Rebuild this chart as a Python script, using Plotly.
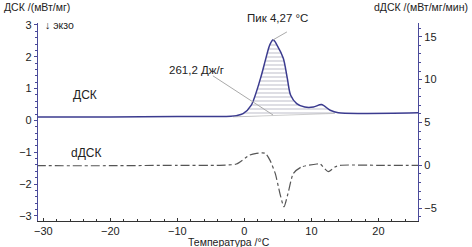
import plotly.graph_objects as go

# DSC curve (left axis, mW/mg)
dsc_t = [-31, -20, -10, -4, -2, -1.2, -0.2, 1.0, 2.4, 3.2, 3.8, 4.3, 4.9, 5.8, 6.4, 6.9, 7.8, 9.0, 10.3, 11.5, 12.8, 14, 18, 26]
dsc_v = [0.11, 0.11, 0.12, 0.12, 0.13, 0.15, 0.21, 0.47, 1.32, 1.95, 2.38, 2.53, 2.35, 1.95, 1.32, 0.79, 0.53, 0.42, 0.42, 0.50, 0.32, 0.24, 0.22, 0.24]

# integration baseline
base_t = [-1.7, 13.5]
base_v = [0.11, 0.22]

# dDSC curve (right axis, mW/mg/min)
ddsc_t = [-31, -20, -10, -3.7, -1.2, 0.8, 1.8, 3.1, 3.8, 4.6, 5.3, 5.9, 6.5, 7.3, 8.5, 10.8, 11.3, 12.5, 13.5, 14.3, 20, 26]
ddsc_v = [-0.05, -0.05, 0.0, 0.0, 0.15, 1.2, 1.4, 1.4, 0.6, -0.95, -3.3, -4.85, -3.3, -0.95, -0.2, 0.15, 0.15, -0.75, -0.2, 0.0, 0.0, 0.0]

peak_t, peak_v = 4.27, 2.53

x_ticks = [-30, -20, -10, 0, 10, 20]
y_ticks = [-3, -2, -1, 0, 1, 2, 3]
y2_ticks = [-5, 0, 5, 10, 15]

font = "Liberation Sans, Arial, sans-serif"
blue = "#4a4a9a"

W, H = 472, 247
L, R, T, B = 38, 54, 23, 26
pw, ph = W - L - R, H - T - B

# hatch segment of DSC within baseline limits
seg_t = [base_t[0]] + [t for t in dsc_t if base_t[0] < t < base_t[1]] + [base_t[1]]
def interp(t, xs, ys):
    for i in range(len(xs) - 1):
        if xs[i] <= t <= xs[i + 1]:
            f = (t - xs[i]) / (xs[i + 1] - xs[i])
            return ys[i] + f * (ys[i + 1] - ys[i])
    return ys[-1]
seg_v = [interp(t, dsc_t, dsc_v) for t in seg_t]

fig = go.Figure()
fig.add_trace(go.Scatter(x=base_t, y=base_v, mode="lines",
                         line=dict(color="rgba(150,150,150,0.6)", width=0.8),
                         hoverinfo="skip", showlegend=False))
fig.add_trace(go.Scatter(x=seg_t, y=seg_v, mode="lines", fill="tonexty",
                         fillcolor="rgba(0,0,0,0)",
                         fillpattern=dict(shape="-", fgcolor="#7c7c92", size=4, solidity=0.25),
                         line=dict(color="rgba(0,0,0,0)", width=0, shape="spline"),
                         hoverinfo="skip", showlegend=False))
fig.add_trace(go.Scatter(x=dsc_t, y=dsc_v, mode="lines",
                         line=dict(color="#3b3b8f", width=1.5, shape="spline", smoothing=0.8),
                         showlegend=False))
fig.add_trace(go.Scatter(x=ddsc_t, y=ddsc_v, mode="lines", yaxis="y2",
                         line=dict(color="#555555", width=1.2, dash="dashdot", shape="spline", smoothing=0.6),
                         showlegend=False))

fig.update_layout(
    width=W, height=H,
    margin=dict(l=L, r=R, t=T, b=B),
    paper_bgcolor="white", plot_bgcolor="white",
    font=dict(family=font, size=11, color="#222"),
    xaxis=dict(range=[-30.8, 25.9], tickvals=x_ticks, showgrid=False, zeroline=False,
               showline=True, linecolor="#333", linewidth=1, ticks="inside", ticklen=3,
               tickcolor="#333", minor=dict(dtick=2, ticks="inside", ticklen=2, tickcolor="#333"),
               tickfont=dict(size=11), automargin=False),
    yaxis=dict(range=[-3.16, 3.06], tickvals=y_ticks, showgrid=False, zeroline=False,
               showline=True, linecolor=blue, linewidth=1.2, ticks="outside", ticklen=3,
               tickcolor=blue, minor=dict(dtick=0.2, ticks="outside", ticklen=2, tickcolor=blue),
               tickfont=dict(size=11), automargin=False),
    yaxis2=dict(range=[-6.5, 16.6], tickvals=y2_ticks, overlaying="y", side="right",
                showgrid=False, zeroline=False, showline=True, linecolor=blue, linewidth=1.2,
                ticks="outside", ticklen=3, tickcolor=blue,
                minor=dict(dtick=1, ticks="outside", ticklen=2, tickcolor=blue),
                tickfont=dict(size=11), automargin=False),
)

# leader lines
fig.add_shape(type="line", xref="x", yref="y", x0=6.34, y0=2.78, x1=peak_t, y1=peak_v,
              line=dict(color="#aaaaaa", width=1))
fig.add_shape(type="line", xref="x", yref="y", x0=-4.7, y0=1.40, x1=peak_t, y1=0.17,
              line=dict(color="#aaaaaa", width=1))

# text labels positioned by pixel (x from left, y from top)
ann = [
    dict(text="ДСК /(мВт/мг)", x=2, y=7, xanchor="left", size=10.5),
    dict(text="dДСК /(мВт/мг/мин)", x=470, y=7, xanchor="right", size=10.5),
    dict(text="↓ экзо", x=43, y=25, xanchor="left", size=10.5),
    dict(text="Пик 4,27 °C", x=277, y=18, xanchor="center", size=11.5),
    dict(text="261,2 Дж/г", x=196, y=70, xanchor="center", size=11.5),
    dict(text="ДСК", x=85, y=95, xanchor="center", size=12),
    dict(text="dДСК", x=86, y=153, xanchor="center", size=12),
    dict(text="Температура /°C", x=229, y=241.5, xanchor="center", size=10.5),
]
for a in ann:
    fig.add_annotation(text=a["text"], x=(a["x"] - L) / pw, y=(H - a["y"] - B) / ph,
                       xref="paper", yref="paper",
                       xanchor=a["xanchor"], yanchor="middle", showarrow=False,
                       font=dict(family=font, size=a["size"], color="#222"))

fig.write_html("out.html", config={"displayModeBar": False},
               post_script="document.body.style.margin='0';document.body.style.overflow='hidden';")
